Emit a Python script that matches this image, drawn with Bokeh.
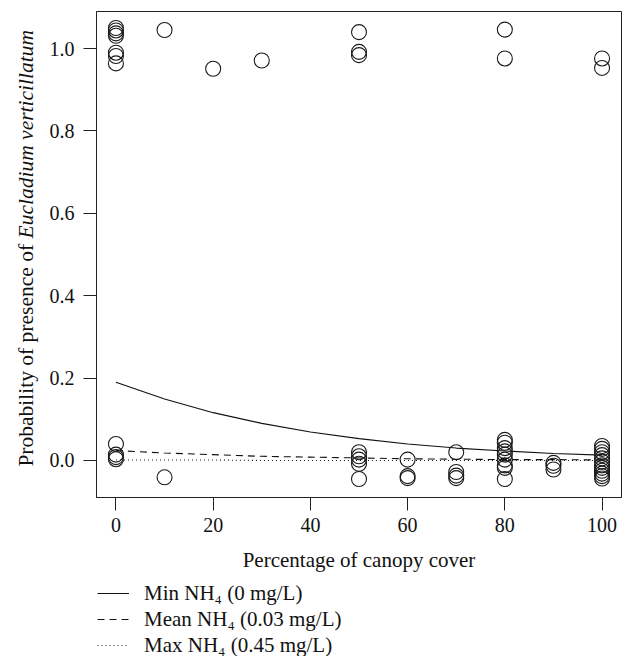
from math import pi
from bokeh.plotting import figure
from bokeh.layouts import row, column
from bokeh.models import Range1d, Legend, LegendItem, NumeralTickFormatter
from bokeh.core.properties import value
from bokeh.embed import file_html
from bokeh.resources import INLINE

FONT = "Liberation Serif"

# Observed presence (1) points, jittered vertically as in the figure
pres_x = [0, 0, 0, 0, 0, 0, 0, 10, 20, 30, 50, 50, 50, 80, 80, 100, 100]
pres_y = [1.050, 1.044, 1.037, 1.031, 0.990, 0.982, 0.964, 1.045, 0.951, 0.971,
          1.040, 0.992, 0.984, 1.046, 0.976, 0.976, 0.953]

# Observed absence (0) points, jittered
abs_x = [0, 0, 0, 0,
         10,
         50, 50, 50, 50, 50,
         60, 60, 60,
         70, 70, 70, 70,
         80, 80, 80, 80, 80, 80, 80, 80, 80,
         90, 90, 90,
         100, 100, 100, 100, 100, 100, 100, 100, 100, 100, 100, 100]
abs_y = [0.040, 0.014, 0.008, 0.003,
         -0.041,
         0.020, 0.010, 0.002, -0.008, -0.045,
         0.002, -0.038, -0.043,
         0.020, -0.028, -0.037, -0.043,
         0.050, 0.043, 0.030, 0.022, 0.014, 0.002, -0.012, -0.018, -0.045,
         -0.006, -0.013, -0.022,
         0.035, 0.028, 0.020, 0.013, 0.005, -0.003, -0.012, -0.018, -0.025, -0.032, -0.038, -0.044]

# Fitted curves
curve_x = [0, 10, 20, 30, 40, 50, 60, 70, 80, 90, 100]
min_nh4 = [0.190, 0.149, 0.116, 0.090, 0.069, 0.053, 0.040, 0.030, 0.023, 0.017, 0.013]
mean_nh4 = [0.024, 0.018, 0.014, 0.010, 0.008, 0.006, 0.004, 0.003, 0.002, 0.002, 0.001]
max_nh4 = [0.001, 0.001, 0.001, 0.000, 0.000, 0.000, 0.000, 0.000, 0.000, 0.000, 0.000]

x_ticks = [0, 20, 40, 60, 80, 100]
y_ticks = [0.0, 0.2, 0.4, 0.6, 0.8, 1.0]

legend_labels = ["Min NH\u2084 (0 mg/L)", "Mean NH\u2084 (0.03 mg/L)", "Max NH\u2084 (0.45 mg/L)"]
x_title = "Percentage of canopy cover"
y_title_parts = ["Probability of presence of", "Eucladium verticillatum"]
y_title_styles = ["normal", "italic"]
y_title_starts = [-0.015, 0.539]   # where each part begins along the y axis

line_styles = [dict(line_dash="solid"), dict(line_dash="7 5"), dict(line_dash="1 3")]
curves = [min_nh4, mean_nh4, max_nh4]

TOP, FRAME_H, BOTTOM = 11, 486, 80
STRIP_W = 40
y_range = Range1d(-0.09, 1.09)


def clean(fig):
    fig.background_fill_color = "white"
    fig.border_fill_color = "white"
    fig.xgrid.visible = False
    fig.ygrid.visible = False


# --- left strip carrying the two-style y-axis title -------------------------
tfig = figure(frame_width=STRIP_W, frame_height=FRAME_H, output_backend="svg",
              toolbar_location=None, x_range=Range1d(0, STRIP_W), y_range=y_range,
              x_axis_location=None, y_axis_location=None,
              min_border_left=0, min_border_right=0,
              min_border_top=TOP, min_border_bottom=BOTTOM)
clean(tfig)
tfig.outline_line_color = None
for part, style, start in zip(y_title_parts, y_title_styles, y_title_starts):
    tfig.text(x=[25], y=[start], text=[part], angle=pi / 2,
              text_align="left", text_baseline="middle", text_font=value(FONT),
              text_font_size="21.5px", text_font_style=style, text_color="#111111")

# --- main plot ---------------------------------------------------------------
p = figure(frame_width=525, frame_height=FRAME_H, output_backend="svg", toolbar_location=None,
           x_range=Range1d(-4, 104), y_range=y_range,
           min_border_left=96 - STRIP_W, min_border_right=1,
           min_border_top=TOP, min_border_bottom=BOTTOM)
clean(p)
p.outline_line_color = "#222222"
p.outline_line_width = 1

for ax in (p.xaxis[0], p.yaxis[0]):
    ax.axis_line_color = "#222222"
    ax.major_tick_line_color = "#222222"
    ax.major_tick_out = 13
    ax.major_tick_in = 0
    ax.minor_tick_line_color = None
    ax.major_label_text_font = FONT
    ax.major_label_text_font_size = "20px"
    ax.major_label_text_color = "#111111"

p.xaxis.ticker = x_ticks
p.yaxis.ticker = y_ticks
p.yaxis.formatter = NumeralTickFormatter(format="0.0")
p.xaxis.major_label_standoff = 7
p.yaxis.major_label_standoff = 9
p.xaxis.axis_label = x_title
p.xaxis.axis_label_text_font = FONT
p.xaxis.axis_label_text_font_style = "normal"
p.xaxis.axis_label_text_font_size = "21px"
p.xaxis.axis_label_text_color = "#111111"
p.xaxis.axis_label_standoff = 13

for ys, st in zip(curves, line_styles):
    p.line(curve_x, ys, line_color="#111111", line_width=1.1, **st)

p.scatter(pres_x, pres_y, marker="circle", size=15, fill_color=None,
          line_color="#1a1a1a", line_width=1.1)
p.scatter(abs_x, abs_y, marker="circle", size=15, fill_color=None,
          line_color="#1a1a1a", line_width=1.1)

# --- legend strip below the plot --------------------------------------------
LEG_H = 79
lfig = figure(frame_width=622, frame_height=LEG_H, output_backend="svg",
              toolbar_location=None, x_range=Range1d(-1000, -900), y_range=Range1d(-1000, -900),
              x_axis_location=None, y_axis_location=None,
              min_border_left=0, min_border_right=0, min_border_top=0, min_border_bottom=0)
clean(lfig)
lfig.outline_line_color = None
items = []
for lab, ys, st in zip(legend_labels, curves, line_styles):
    r = lfig.line(curve_x, ys, line_color="#111111", line_width=1.1, **st)
    items.append(LegendItem(label=lab, renderers=[r]))

legend = Legend(items=items, location=(97, -2), padding=0, margin=0,
                border_line_color=None, background_fill_alpha=0,
                glyph_width=32, glyph_height=26, label_height=26, spacing=0,
                label_standoff=15, label_text_font=FONT, label_text_font_size="21px",
                label_text_color="#111111")
lfig.add_layout(legend)

layout = column(row(tfig, p), lfig)
open("out.html", "w").write(file_html(layout, INLINE))
